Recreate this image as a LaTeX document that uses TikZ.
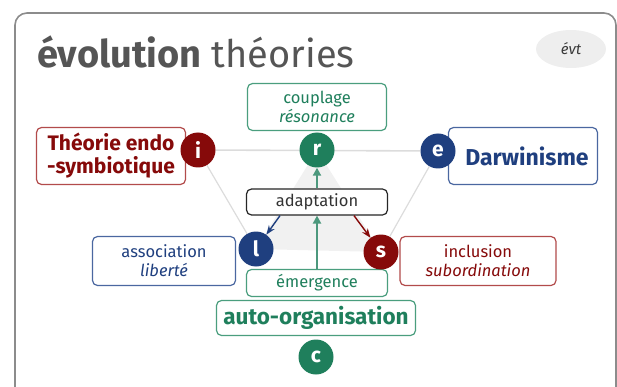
\documentclass[tikz,border=0pt]{standalone}
\usepackage{fontspec}
\setmainfont{Fira Sans}
\usetikzlibrary{arrows.meta,positioning,calc,backgrounds,shapes.geometric}
\definecolor{cadre}{HTML}{8C8C8C}
\definecolor{titre}{HTML}{555555}
\definecolor{vert}{HTML}{1F7F5C}
\definecolor{vertClair}{HTML}{4A9E7E}
\definecolor{bleu}{HTML}{1F3F7F}
\definecolor{bleuClair}{HTML}{4A67A0}
\definecolor{rouge}{HTML}{860A0A}
\definecolor{rougeClair}{HTML}{B24B4B}
\definecolor{trait}{HTML}{DCDCDC}
\definecolor{fond}{HTML}{F1F1F1}
\definecolor{pastille}{HTML}{EEEEEE}

\begin{document}
\begin{tikzpicture}[x=1pt,y=-1pt,
    boite/.style={draw,fill=white,rounded corners=5pt,line width=1.2pt,
                  align=center,inner sep=0pt},
    texte/.style={font=\fontsize{16.5}{19}\selectfont},
    gras/.style={font=\fontsize{21}{23}\selectfont\bfseries},
    puce/.style={circle,inner sep=0pt,minimum size=35pt,text=white,
                 font=\fontsize{21}{21}\selectfont\bfseries},
    >={Stealth}]
  \useasboundingbox (0,0) rectangle (617,387);
  \clip (0,0) rectangle (617,387);
  \draw[cadre,line width=1.6pt,rounded corners=12pt]
    (15,430) -- (15,13) -- (616,13) -- (616,430);

  \node[anchor=base west,inner sep=0pt,text=titre,
        font=\fontsize{38}{40}\selectfont] (titre) at (37,68)
        {\textbf{évolution} théories};
  \node[ellipse,fill=pastille,minimum width=70pt,minimum height=38pt,
        text=titre!70!black,font=\fontsize{15}{15}\selectfont\itshape] (evt) at (571,49) {évt};

  % boites
  \node[boite,texte,draw=vertClair,text=vert,minimum width=139pt,minimum height=47pt]
    (couplage) at (317,107) {couplage\\\textit{résonance}};
  \node[boite,gras,draw=rougeClair,text=rouge,minimum width=149pt,minimum height=57pt]
    (endo) at (111,156) {Théorie endo\\-symbiotique};
  \node[boite,gras,draw=bleuClair,text=bleu,minimum width=149pt,minimum height=57pt,
        font=\fontsize{23}{25}\selectfont\bfseries]
    (darwin) at (523,156) {\hspace*{8pt}Darwinisme};
  \node[boite,texte,draw=black!85,text=black!80,minimum width=141pt,minimum height=26pt]
    (adapt) at (317,202) {adaptation};
  \node[boite,texte,draw=bleuClair,text=bleu,minimum width=143pt,minimum height=49pt]
    (assoc) at (164,261) {association\\\textit{liberté}};
  \node[boite,texte,draw=rougeClair,text=rouge,minimum width=156pt,minimum height=49pt]
    (incl) at (478,261) {inclusion\\\textit{subordination}};
  \node[boite,texte,draw=vertClair,text=vert,minimum width=141pt,minimum height=27pt]
    (emerg) at (317,283) {émergence};
  \node[boite,draw=vertClair,text=vert,minimum width=199pt,minimum height=35pt,
        font=\fontsize{22.5}{24}\selectfont\bfseries]
    (autoorg) at (316,318) {auto-organisation};

  % pastilles
  \node[puce,fill=rouge] (i) at (198,150) {i};
  \node[puce,fill=vert]  (r) at (317,150) {r};
  \node[puce,fill=bleu]  (e) at (438,151) {e};
  \node[puce,fill=bleu]  (l) at (256,249) {l};
  \node[puce,fill=rouge] (s) at (381,252) {s};
  \node[puce,fill=vert]  (c) at (316,357) {c};

  \begin{scope}[on background layer]
    \fill[fond] (r.center) -- (l.center) -- (s.center) -- cycle;
    \draw[trait,line width=1.6pt] (i) -- (e);
    \draw[trait,line width=1.2pt] (i) -- (l);
    \draw[trait,line width=1.2pt] (e) -- (s);
  \end{scope}

  \draw[vert!80,line width=2pt,-{Triangle[length=8pt,width=8pt]}] (emerg) -- (adapt);
  \draw[vert!80,line width=2pt,-{Triangle[length=8pt,width=8pt]}] (adapt) -- (r);
  \draw[->,bleu,line width=1.4pt] ($(adapt.south west)!0.24!(adapt.south east)$) -- (l);
  \draw[->,rouge,line width=1.4pt] ($(adapt.south west)!0.76!(adapt.south east)$) -- (s);
\end{tikzpicture}
\end{document}
